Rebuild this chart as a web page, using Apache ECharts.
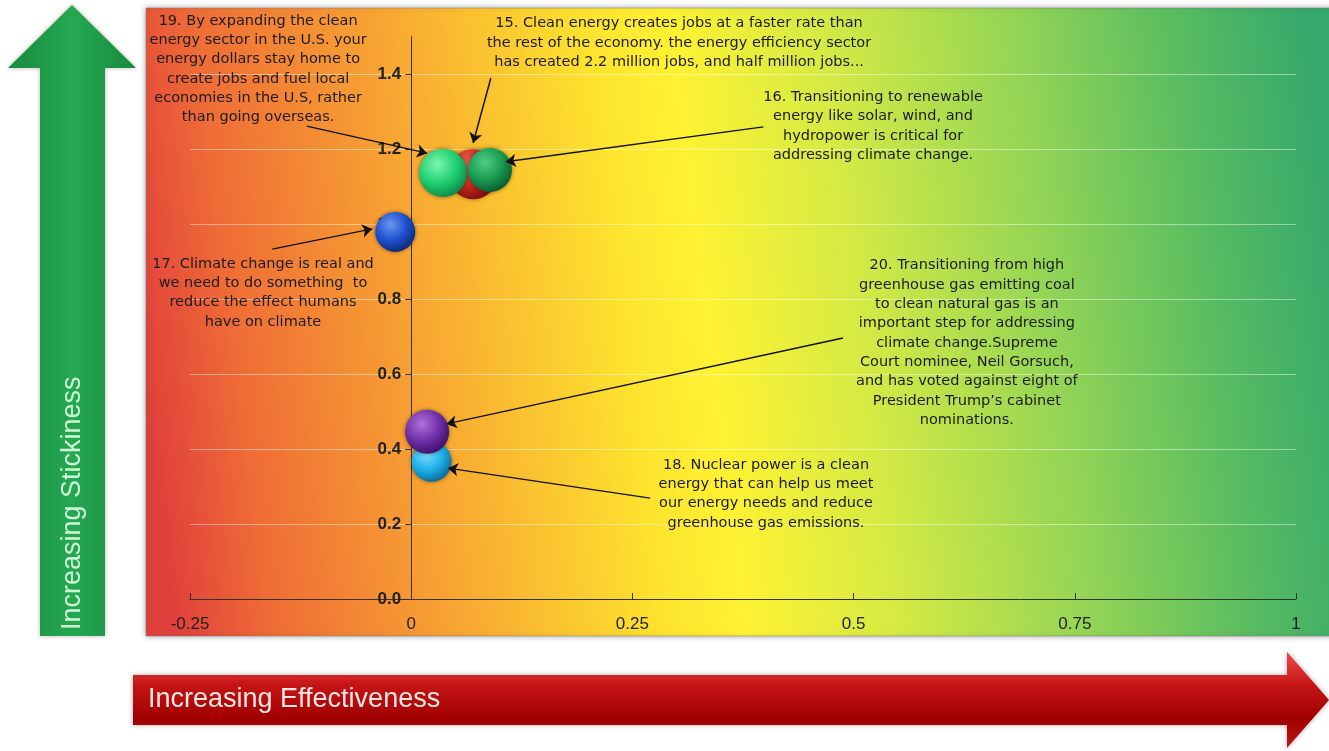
<!DOCTYPE html>
<html>
<head>
<meta charset="utf-8">
<script src="https://cdn.jsdelivr.net/npm/echarts@6/dist/echarts.min.js"></script>
<style>
html,body{margin:0;padding:0;background:#fff;}
#chart{width:1329px;height:751px;}
</style>
</head>
<body>
<div id="chart"></div>
<script>
// ---- data ----
const statementIds   = ['15', '19', '16', '17', '18', '20'];
const effectiveness  = [0.070, 0.036, 0.089, -0.018, 0.023, 0.018];
const stickiness     = [1.133, 1.136, 1.144, 0.979, 0.366, 0.446];
const bubbleSize     = [50, 48, 44, 40, 40, 44];
const xTickValues    = [-0.25, 0, 0.25, 0.5, 0.75, 1];
const yTickLabels    = ['0.0', '0.2', '0.4', '0.6', '0.8', '1.0', '1.2', '1.4'];
const statementText = {
  '15': '15. Clean energy creates jobs at a faster rate than\nthe rest of the economy. the energy efficiency sector\nhas created 2.2 million jobs, and half million jobs...',
  '19': '19. By expanding the clean\nenergy sector in the U.S. your\nenergy dollars stay home to\ncreate jobs and fuel local\neconomies in the U.S, rather\nthan going overseas.',
  '16': '16. Transitioning to renewable\nenergy like solar, wind, and\nhydropower is critical for\naddressing climate change.',
  '17': '17. Climate change is real and\nwe need to do something  to\nreduce the effect humans\nhave on climate',
  '18': '18. Nuclear power is a clean\nenergy that can help us meet\nour energy needs and reduce\ngreenhouse gas emissions.',
  '20': '20. Transitioning from high\ngreenhouse gas emitting coal\nto clean natural gas is an\nimportant step for addressing\nclimate change.Supreme\nCourt nominee, Neil Gorsuch,\nand has voted against eight of\nPresident Trump\u2019s cabinet\nnominations.'
};

// ---- layout / style (not data) ----
const bubbleColors = {
  '15': ['#f06a5a', '#d02a1e', '#7a0c0c'],
  '19': ['#7af5b0', '#22d072', '#0a8a45'],
  '16': ['#50cc84', '#1a9c52', '#0b5a2e'],
  '17': ['#6a96f0', '#1e50d0', '#0c2872'],
  '18': ['#7adcfa', '#1eb0ea', '#0b6896'],
  '20': ['#b070dc', '#7030a8', '#3c0e66']
};
// note text centre and arrow (start -> tip), in data coordinates
const noteLayout = {
  '19': { at: [-0.173, 1.413], from: [-0.118, 1.261], to: [0.018, 1.189] },
  '15': { at: [0.3027, 1.483], from: [0.090, 1.389], to: [0.070, 1.216] },
  '16': { at: [0.522, 1.261],  from: [0.398, 1.259], to: [0.107, 1.166] },
  '17': { at: [-0.1675, 0.816], from: [-0.157, 0.933], to: [-0.044, 0.987] },
  '20': { at: [0.628, 0.683],  from: [0.488, 0.696], to: [0.040, 0.467] },
  '18': { at: [0.401, 0.28],   from: [0.270, 0.269], to: [0.0416, 0.349] }
};

const FONT = '"Liberation Sans", Arial, sans-serif';
const NOTE_FONT = '"DejaVu Sans", "Liberation Sans", sans-serif';
const GRID_LEFT = 190;
const chart = echarts.init(document.getElementById('chart'), null, { renderer: 'canvas' });

const bubbleData = statementIds.map((id, i) => {
  const c = bubbleColors[id];
  return {
    name: id,
    value: [effectiveness[i], stickiness[i]],
    symbolSize: bubbleSize[i],
    itemStyle: {
      opacity: 1,
      color: new echarts.graphic.RadialGradient(0.38, 0.32, 0.72, [
        { offset: 0, color: c[0] },
        { offset: 0.55, color: c[1] },
        { offset: 1, color: c[2] }
      ]),
      shadowBlur: 4,
      shadowColor: 'rgba(0,0,0,0.45)'
    }
  };
});

const arrowLines = statementIds.map(id => [
  { coord: noteLayout[id].from },
  { coord: noteLayout[id].to }
]);

const notePoints = statementIds.map(id => ({
  coord: noteLayout[id].at,
  label: { formatter: statementText[id] }
}));

const option = {
  animation: false,
  backgroundColor: '#ffffff',
  grid: { left: GRID_LEFT, right: 33, top: 36.5, bottom: 152 },
  xAxis: {
    type: 'value',
    min: -0.25, max: 1, interval: 0.25,
    axisLine: { onZero: true, lineStyle: { color: '#333', width: 1 } },
    axisTick: { show: true, inside: true, length: 6, lineStyle: { color: '#333' } },
    axisLabel: {
      margin: 17, color: '#222', fontSize: 17, fontFamily: FONT,
      formatter: v => { const k = xTickValues.findIndex(t => Math.abs(t - v) < 1e-9); return k >= 0 ? String(xTickValues[k]) : ''; }
    },
    splitLine: { show: false }
  },
  yAxis: {
    type: 'value',
    min: 0, max: 1.5, interval: 0.2,
    offset: 0,
    z: 0,
    axisLine: { show: true, onZero: false, lineStyle: { color: '#333', width: 1 } },
    axisTick: { show: true, length: 6, lineStyle: { color: '#333' } },
    axisLabel: {
      margin: 10, color: '#222', fontSize: 17, fontWeight: 'bold', fontFamily: FONT,
      showMaxLabel: false,
      formatter: v => { const k = Math.round(v / 0.2); return (Math.abs(k * 0.2 - v) < 1e-6 && k < yTickLabels.length) ? yTickLabels[k] : ''; }
    },
    splitLine: { show: true, showMaxLine: false, lineStyle: { color: 'rgba(255,255,255,0.45)', width: 1 } }
  },
  graphic: [
    {
      type: 'rect', z: -10,
      shape: { x: 146, y: 8, width: 1191, height: 628 },
      style: {
        fill: new echarts.graphic.LinearGradient(0, 0.62, 1, 0.38, [
          { offset: 0, color: '#e0403c' },
          { offset: 0.08, color: '#ef6c36' },
          { offset: 0.24, color: '#f8a832' },
          { offset: 0.40, color: '#fde22e' },
          { offset: 0.47, color: '#fff232' },
          { offset: 0.60, color: '#d4ea44' },
          { offset: 0.76, color: '#92d456' },
          { offset: 0.90, color: '#55bb62' },
          { offset: 1, color: '#36a86c' }
        ]),
        stroke: 'rgba(120,120,120,0.5)', lineWidth: 1,
        shadowBlur: 6, shadowColor: 'rgba(0,0,0,0.35)'
      }
    },
    {
      type: 'polygon', z: -10,
      shape: { points: [[72, 5], [136, 68], [105, 68], [105, 636], [40, 636], [40, 68], [8, 68]] },
      style: {
        fill: new echarts.graphic.LinearGradient(0, 0, 1, 0, [
          { offset: 0, color: '#178a3e' },
          { offset: 0.5, color: '#25a852' },
          { offset: 1, color: '#178a3e' }
        ]),
        shadowBlur: 4, shadowColor: 'rgba(0,0,0,0.3)'
      }
    },
    {
      type: 'text', z: -9, x: 73, y: 630, rotation: Math.PI / 2,
      style: { text: 'Increasing Stickiness', x: 0, y: 0, fill: '#cdf5d6', font: '27px ' + FONT, textAlign: 'left', textVerticalAlign: 'middle' }
    },
    {
      type: 'polygon', z: -10,
      shape: { points: [[133, 675], [1287, 675], [1287, 652], [1329, 700], [1287, 748], [1287, 725], [133, 725]] },
      style: {
        fill: new echarts.graphic.LinearGradient(0, 0, 0, 1, [
          { offset: 0, color: '#f04a4a' },
          { offset: 0.35, color: '#c41414' },
          { offset: 0.7, color: '#a00000' },
          { offset: 1, color: '#c01818' }
        ]),
        shadowBlur: 5, shadowColor: 'rgba(0,0,0,0.35)'
      }
    },
    {
      type: 'text', z: -9, x: 148, y: 700,
      style: { text: 'Increasing Effectiveness', fill: '#f6e6e6', font: '27px ' + FONT, textAlign: 'left', textVerticalAlign: 'middle' }
    }
  ],
  series: [
    {
      type: 'scatter',
      data: bubbleData,
      symbol: 'circle',
      silent: true,
      z: 3,
      markLine: {
        silent: true,
        animation: false,
        symbol: ['none', 'arrow'],
        symbolSize: 10,
        label: { show: false },
        lineStyle: { color: '#111', width: 1.5, type: 'solid' },
        emphasis: { disabled: true },
        data: arrowLines
      },
      markPoint: {
        silent: true,
        animation: false,
        symbol: 'circle',
        symbolSize: 1,
        itemStyle: { color: 'rgba(0,0,0,0)' },
        label: {
          show: true, position: 'inside', color: '#1c1c1c',
          fontSize: 14.5, lineHeight: 19.3, fontFamily: NOTE_FONT, align: 'center', verticalAlign: 'middle'
        },
        data: notePoints
      }
    }
  ]
};
chart.setOption(option);
// move the y axis (line, ticks and labels) onto x = 0 using the x scale
const zeroPx = chart.convertToPixel({ xAxisIndex: 0 }, 0);
chart.setOption({ yAxis: { offset: -(zeroPx - GRID_LEFT) } });
</script>
</body>
</html>
